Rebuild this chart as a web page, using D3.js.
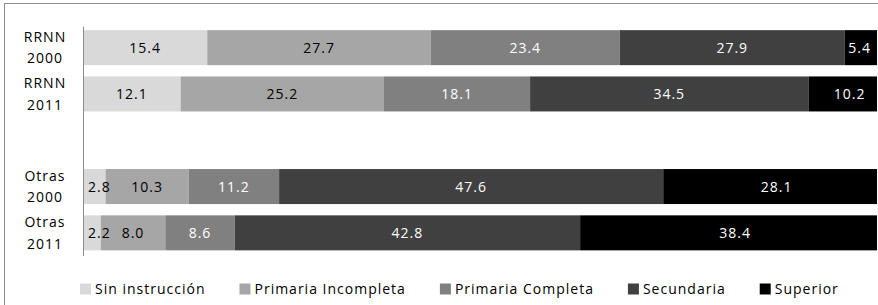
<!DOCTYPE html>
<html><head><meta charset="utf-8">
<script src="https://cdn.jsdelivr.net/npm/d3@7"></script>
<style>
html,body{margin:0;padding:0;background:#fff;}
svg{display:block;font-family:"Open Sans", Lato, sans-serif;}
svg text{letter-spacing:1px;}
</style></head>
<body>
<svg id="chart" width="878" height="305"></svg>
<script>
const categories = ["RRNN 2000", "RRNN 2011", "", "Otras 2000", "Otras 2011"];
const seriesNames = ["Sin instrucción", "Primaria Incompleta", "Primaria Completa", "Secundaria", "Superior"];
const sinInstruccion     = [15.4, 12.1, null, 2.8, 2.2];
const primariaIncompleta = [27.7, 25.2, null, 10.3, 8.0];
const primariaCompleta   = [23.4, 18.1, null, 11.2, 8.6];
const secundaria         = [27.9, 34.5, null, 47.6, 42.8];
const superior           = [5.4, 10.2, null, 28.1, 38.4];
const colors = ["#d9d9d9", "#a6a6a6", "#808080", "#404040", "#000000"];
const labelColors = ["#000", "#000", "#fff", "#fff", "#fff"];

const seriesValues = [sinInstruccion, primariaIncompleta, primariaCompleta, secundaria, superior];
const W = 878, H = 305;
const FS = 14;
const svg = d3.select("#chart");

// frame
svg.append("rect").attr("x", 4.5).attr("y", 3.5).attr("width", W + 20).attr("height", H + 20)
  .attr("fill", "none").attr("stroke", "#8c8c8c").attr("stroke-width", 1);

const x = d3.scaleLinear().domain([0, 100]).range([83, 890]);
const y = d3.scaleBand().domain(categories.map((c, i) => i)).range([24.5, 256]).paddingInner(0.244).paddingOuter(0.122);

svg.append("clipPath").attr("id", "pc").append("rect")
  .attr("x", 0).attr("y", 0).attr("width", 877).attr("height", H);

const rows = categories.map((c, i) => {
  let cum = 0;
  return seriesValues.map((s, k) => {
    const v = s[i];
    const seg = {cat: i, k, v, x0: cum, x1: cum + (v || 0)};
    cum += (v || 0);
    return seg;
  }).filter(d => d.v != null);
}).flat();

const g = svg.append("g").attr("clip-path", "url(#pc)");
g.selectAll("rect.bar").data(rows).join("rect")
  .attr("class", "bar")
  .attr("x", d => x(d.x0))
  .attr("y", d => y(d.cat))
  .attr("width", d => x(d.x1) - x(d.x0))
  .attr("height", y.bandwidth())
  .attr("fill", d => colors[d.k]);

// labels
const lbl = g.selectAll("text.lbl").data(rows).join("text")
  .attr("class", "lbl")
  .attr("y", d => y(d.cat) + y.bandwidth() / 2)
  .attr("dy", "0.36em")
  .attr("text-anchor", "middle")
  .attr("font-size", FS)
  .attr("fill", d => labelColors[d.k])
  .text(d => d.v.toFixed(1));
lbl.each(function(d) {
  const w = this.getComputedTextLength();
  let cx = (x(d.x0) + x(d.x1)) / 2;
  const minL = 88, maxR = 871;
  if (cx - w / 2 < minL) cx = minL + w / 2;
  if (cx + w / 2 > maxR) cx = maxR - w / 2;
  d3.select(this).attr("x", cx);
});

// category axis
svg.append("line").attr("x1", 83.5).attr("x2", 83.5).attr("y1", 26.5).attr("y2", 256)
  .attr("stroke", "#8c8c8c").attr("stroke-width", 1);
categories.forEach((c, i) => {
  if (!c) return;
  const parts = c.split(" ");
  const t = svg.append("text").attr("x", 45).attr("text-anchor", "middle")
    .attr("font-size", FS).attr("fill", "#000");
  const cy = y(i) + y.bandwidth() / 2;
  parts.forEach((p, j) => {
    t.append("tspan").attr("x", 45).attr("y", cy + (j - (parts.length - 1) / 2) * 21.5).attr("dy", "0.36em").text(p);
  });
});

// legend
const leg = svg.append("g");
let lx = 80;
const ly = 289;
seriesNames.forEach((n, k) => {
  leg.append("rect").attr("x", lx).attr("y", ly - 5.5).attr("width", 11).attr("height", 11).attr("fill", colors[k]);
  const t = leg.append("text").attr("x", lx + 15).attr("y", ly).attr("dy", "0.36em")
    .attr("font-size", FS).attr("fill", "#000").text(n);
  lx += 15 + t.node().getComputedTextLength() + 34;
});
</script>
</body></html>
